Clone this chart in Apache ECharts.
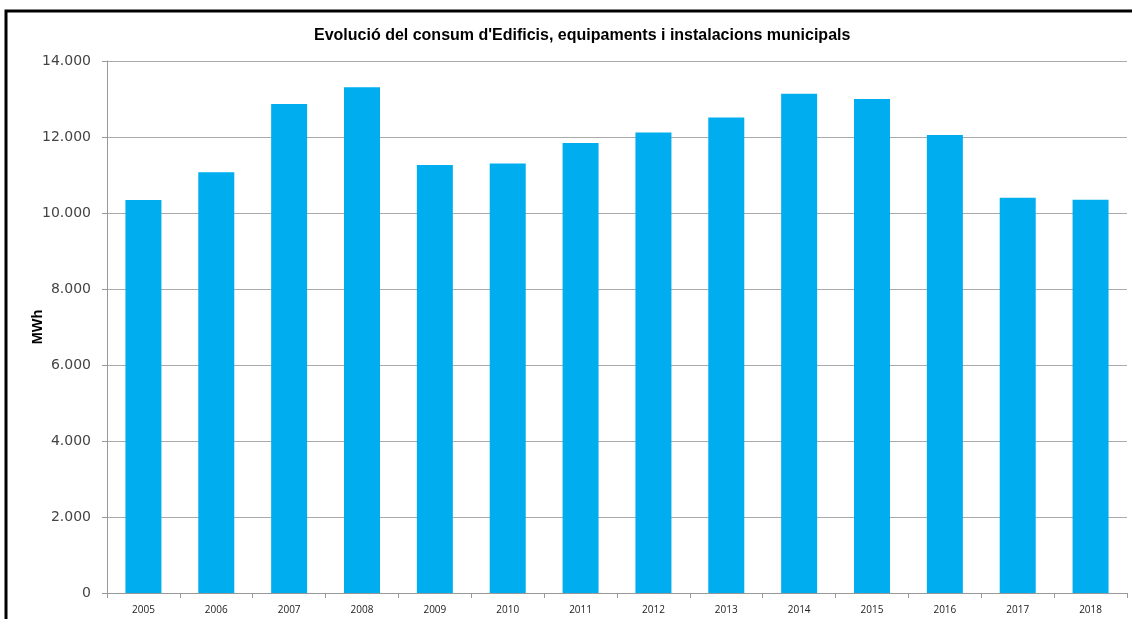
<!DOCTYPE html>
<html>
<head>
<meta charset="utf-8">
<script src="https://cdn.jsdelivr.net/npm/echarts@6/dist/echarts.min.js"></script>
<style>
  html, body { margin: 0; padding: 0; background: #fff; }
  #chart { width: 1132px; height: 619px; }
</style>
</head>
<body>
<div id="chart"></div>
<script>
// dades
var anys = ['2005', '2006', '2007', '2008', '2009', '2010', '2011', '2012', '2013', '2014', '2015', '2016', '2017', '2018'];
var consum = [10340, 11070, 12870, 13310, 11260, 11300, 11840, 12120, 12510, 13140, 13000, 12050, 10400, 10350];
var titol = "Evolució del consum d'Edificis, equipaments i instalacions municipals";
var unitat = 'MWh';

// format 14.000
function milers(v) {
	return String(v).replace(/\B(?=(\d{3})+(?!\d))/g, '.');
}

var chart = echarts.init(document.getElementById('chart'));
var option = {
	backgroundColor: '#fff',
	animation: false,
	title: {
		text: titol,
		left: 309,
		top: 23,
		textStyle: {
			fontFamily: 'Liberation Sans, Arial, sans-serif',
			fontSize: 16,
			fontWeight: 'bold',
			color: '#000'
		}
	},
	grid: {
		left: 107,
		right: 5,
		top: 61,
		bottom: 26
	},
	xAxis: {
		type: 'category',
		data: anys,
		axisLine: { lineStyle: { color: '#999', width: 1 } },
		axisTick: { show: true, inside: false, length: 5, lineStyle: { color: '#999' } },
		axisLabel: {
			color: '#222',
			fontSize: 10,
			margin: 12,
			fontFamily: 'Open Sans, DejaVu Sans, sans-serif'
		}
	},
	yAxis: {
		type: 'value',
		min: 0,
		max: 14000,
		interval: 2000,
		name: unitat,
		nameLocation: 'middle',
		nameGap: 62,
		nameMoveOverlap: false,
		nameTextStyle: {
			fontFamily: 'Liberation Sans, Arial, sans-serif',
			fontSize: 14.5,
			fontWeight: 'bold',
			color: '#000'
		},
		axisLine: { show: true, lineStyle: { color: '#999', width: 1 } },
		axisTick: { show: true, inside: false, length: 5, lineStyle: { color: '#999' } },
		axisLabel: {
			color: '#444',
			fontSize: 14,
			margin: 16,
			fontFamily: 'DejaVu Sans, sans-serif',
			formatter: function(v) { return milers(v); }
		},
		splitLine: { lineStyle: { color: '#aaa', width: 1 } }
	},
	series: [{
		type: 'bar',
		data: consum,
		barWidth: 36,
		itemStyle: { color: '#00aeef' }
	}],
	graphic: [{
		type: 'polyline',
		shape: { points: [[6, 619], [6, 11], [1132, 11]] },
		style: { stroke: '#000', lineWidth: 3, fill: null }
	}]
};
chart.setOption(option);
</script>
</body>
</html>
